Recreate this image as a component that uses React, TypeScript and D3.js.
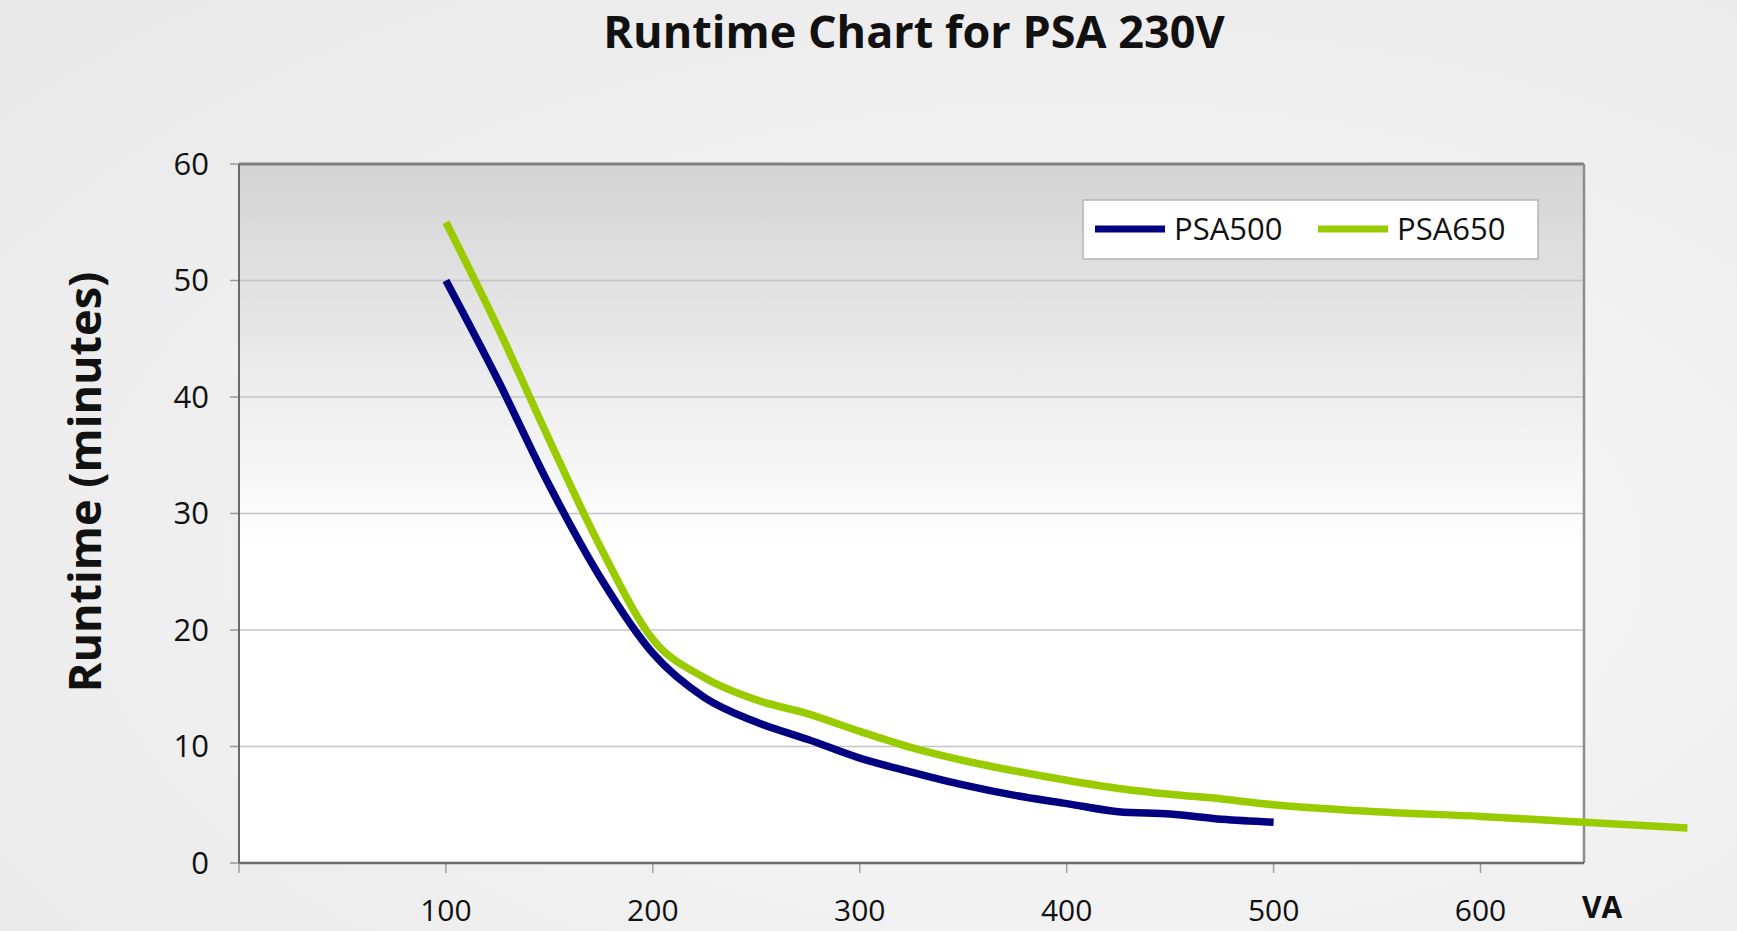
import React from "react";
import { scaleLinear, line, curveMonotoneX } from "d3";

// VA load points and runtime in minutes
const vaPSA500 = [100, 125, 150, 175, 200, 225, 250, 275, 300, 325, 350, 375, 400, 425, 450, 475, 500];
const runtimePSA500 = [50, 41.5, 32.4, 24.4, 18, 14.2, 12.1, 10.6, 9.0, 7.8, 6.7, 5.8, 5.1, 4.4, 4.2, 3.75, 3.5];

const vaPSA650 = [100, 125, 150, 175, 200, 225, 250, 275, 300, 325, 350, 375, 400, 425, 450, 475, 500, 550, 600, 650, 700];
const runtimePSA650 = [55, 46, 36.3, 27, 19.2, 15.9, 14, 12.8, 11.3, 9.9, 8.8, 7.9, 7.1, 6.4, 5.9, 5.5, 5.0, 4.4, 4.0, 3.5, 3.0];

const xTicks = [100, 200, 300, 400, 500, 600];
const yTicks = [0, 10, 20, 30, 40, 50, 60];

const seriesNames = ["PSA500", "PSA650"];
const seriesColors = ["#000080", "#99cc00"];

const W = 1737;
const H = 931;
const plot = { left: 239, right: 1584, top: 164, bottom: 863 };

export default function App() {
  const x = scaleLinear().domain([0, 650]).range([plot.left, plot.right]);
  const y = scaleLinear().domain([0, 60]).range([plot.bottom, plot.top]);

  const path = line<[number, number]>()
    .x((d) => x(d[0]))
    .y((d) => y(d[1]))
    .curve(curveMonotoneX);

  const series = [
    vaPSA500.map((v, i) => [v, runtimePSA500[i]] as [number, number]),
    vaPSA650.map((v, i) => [v, runtimePSA650[i]] as [number, number]),
  ];

  const font = "'Open Sans', 'Noto Sans', sans-serif";

  return (
    <svg
      width={W}
      height={H}
      style={{ position: "absolute", left: 0, top: 0, display: "block" }}
      fontFamily={font}
    >
      <defs>
        <radialGradient id="bg" cx="0.62" cy="0.6" r="0.8">
          <stop offset="0" stopColor="#fafafa" />
          <stop offset="1" stopColor="#e9e9e9" />
        </radialGradient>
        <linearGradient id="plotBg" x1="0" y1="0" x2="0" y2="1">
          <stop offset="0" stopColor="#d4d4d4" />
          <stop offset="0.55" stopColor="#ffffff" />
          <stop offset="1" stopColor="#ffffff" />
        </linearGradient>
      </defs>

      <rect x={0} y={0} width={W} height={H} fill="url(#bg)" />

      <text
        x={914}
        y={48}
        textAnchor="middle"
        fontWeight={700}
        fontSize={45}
        fill="#111"
      >
        Runtime Chart for PSA 230V
      </text>

      {/* plot area */}
      <rect
        x={plot.left}
        y={plot.top}
        width={plot.right - plot.left}
        height={plot.bottom - plot.top}
        fill="url(#plotBg)"
      />

      {/* gridlines + y ticks */}
      {yTicks.map((t) => (
        <g key={t}>
          {t > 0 && t < 60 && (
            <line x1={plot.left} x2={plot.right} y1={y(t)} y2={y(t)} stroke="#c4c4c4" strokeWidth={1.5} />
          )}
          <line x1={plot.left - 9} x2={plot.left} y1={y(t)} y2={y(t)} stroke="#9a9a9a" strokeWidth={1.5} />
          <text
            x={plot.left - 30}
            y={y(t)}
            dy="0.35em"
            textAnchor="end"
            fontSize={31}
            fill="#111"
          >
            {t}
          </text>
        </g>
      ))}

      {/* x ticks */}
      {[0, ...xTicks].map((t) => (
        <line key={t} x1={x(t)} x2={x(t)} y1={plot.bottom} y2={plot.bottom + 10} stroke="#a0a0a0" strokeWidth={1.5} />
      ))}
      {xTicks.map((t) => (
        <text key={t} x={x(t)} y={921} textAnchor="middle" fontSize={30} fill="#111">
          {t}
        </text>
      ))}
      <text x={1582} y={918} fontSize={30} fontWeight={700} fill="#111">
        VA
      </text>

      {/* plot borders */}
      <line x1={plot.left} x2={plot.right} y1={plot.top} y2={plot.top} stroke="#808080" strokeWidth={3} />
      <line x1={plot.right} x2={plot.right} y1={plot.top} y2={plot.bottom} stroke="#8c8c8c" strokeWidth={2.5} />
      <line x1={plot.left} x2={plot.left} y1={plot.top} y2={plot.bottom} stroke="#6a6a6a" strokeWidth={2} />
      <line x1={plot.left} x2={plot.right} y1={plot.bottom} y2={plot.bottom} stroke="#6a6a6a" strokeWidth={2.5} />

      {/* series */}
      {series.map((s, i) => (
        <path key={i} d={path(s) || ""} fill="none" stroke={seriesColors[i]} strokeWidth={7.5} strokeLinejoin="round" />
      ))}

      {/* legend */}
      <rect x={1083} y={200} width={455} height={59} fill="#ffffff" stroke="#b4b4b4" strokeWidth={1.5} />
      {seriesNames.map((n, i) => (
        <g key={n} transform={`translate(${1095 + i * 223},229)`}>
          <line x1={0} x2={70} y1={0} y2={0} stroke={seriesColors[i]} strokeWidth={7} />
          <text x={79} y={0} dy="0.36em" fontSize={31} fill="#111">
            {n}
          </text>
        </g>
      ))}

      {/* y axis title */}
      <text
        transform="translate(101,482) rotate(-90)"
        textAnchor="middle"
        fontWeight={700}
        fontSize={45}
        fill="#111"
      >
        Runtime (minutes)
      </text>
    </svg>
  );
}
